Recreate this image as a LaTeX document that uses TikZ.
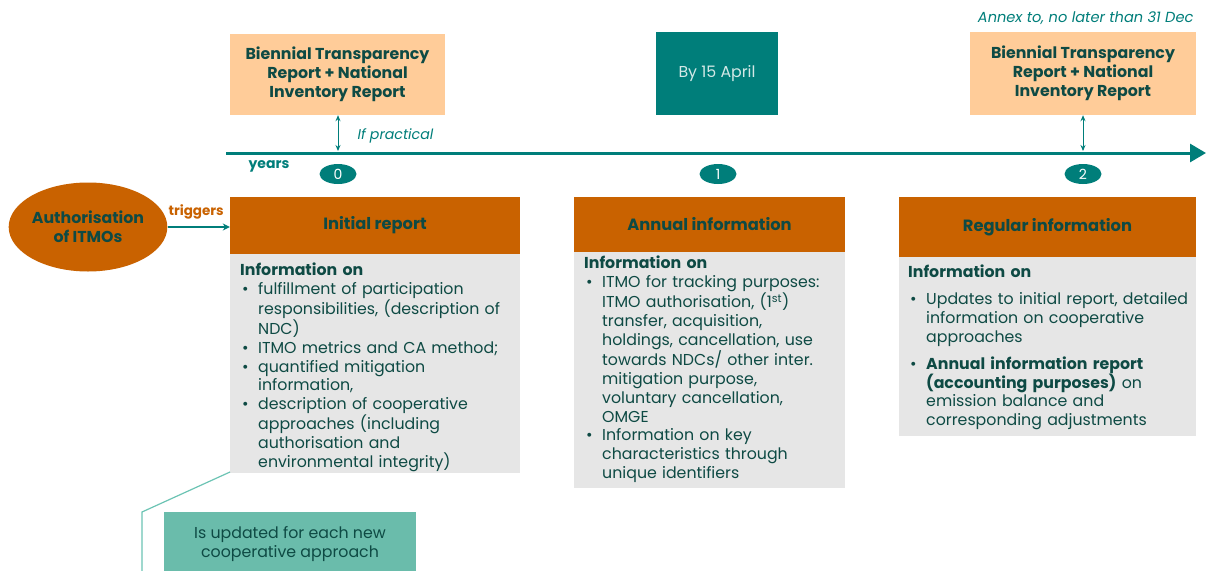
\documentclass[tikz,border=0pt]{standalone}
\usepackage{fontspec}
\setmainfont{Poppins}
\usetikzlibrary{arrows.meta,shapes.geometric}
\definecolor{orng}{HTML}{C96200}
\definecolor{peach}{HTML}{FFCC99}
\definecolor{teal}{HTML}{007E7A}
\definecolor{greybox}{HTML}{E6E6E6}
\definecolor{darktxt}{HTML}{0E4A44}
\definecolor{lightteal}{HTML}{6ABCAB}
\definecolor{linet}{HTML}{6CC4B4}
\definecolor{paletxt}{HTML}{D3E8E6}
\hyphenpenalty=10000
\exhyphenpenalty=10000
\lineskiplimit=-100pt
\newcommand{\bitem}[1]{\par\hangindent=18pt\hangafter=1\noindent\makebox[18pt][l]{\hspace*{2pt}•}#1\par}
\tikzset{
  hdr/.style={fill=orng, draw=none, font=\fontsize{16.3}{18}\selectfont\bfseries, text=darktxt, align=center},
  body/.style={anchor=north west, font=\fontsize{15.8}{18.85}\selectfont, text=darktxt, align=left, inner sep=0pt},
  btr/.style={fill=peach, draw=none, font=\fontsize{15.8}{19}\selectfont\bfseries, text=darktxt, align=center},
  yr/.style={ellipse, fill=teal, text=white, minimum width=37pt, minimum height=20pt, inner sep=0pt, font=\fontsize{14}{14}\selectfont},
  dbl/.style={teal, line width=0.9pt, {Stealth[length=6pt,width=5pt]}-{Stealth[length=6pt,width=5pt]}},
}
\begin{document}
\begin{tikzpicture}[x=1pt,y=-1pt]
\useasboundingbox (0,0) rectangle (1206,570);
\fill[white] (0,0) rectangle (1206,570);

% timeline
\coordinate (tl0) at (226,153);
\coordinate (tl1) at (1206,153);
\draw[teal, line width=3pt, -{Triangle[length=16pt,width=18pt]}] (tl0) -- (tl1);
\node[text=teal, font=\fontsize{14}{14}\selectfont\bfseries, anchor=west] (years) at (245,166) {years};
\node[yr] (y0) at (338,174) {0};
\node[yr] (y1) at (718,174) {1};
\node[yr] (y2) at (1083,174) {2};

% top boxes
\node[btr, minimum width=215pt, minimum height=81pt] (btr1) at (337.5,74.5) {Biennial Transparency\\Report + National\\Inventory Report};
\node[fill=teal, minimum width=122pt, minimum height=83pt, text=paletxt, font=\fontsize{15.8}{18}\selectfont] (apr) at (717,73.5) {By 15 April};
\node[btr, minimum width=226pt, minimum height=83pt] (btr2) at (1083,73.5) {Biennial Transparency\\Report + National\\Inventory Report};
\node[text=teal, font=\fontsize{14.6}{14}\selectfont\itshape, anchor=east] (annex) at (1197,18) {Annex to, no later than 31 Dec};

\coordinate (a0) at (338,151);
\coordinate (a2) at (1083,151);
\draw[dbl] (btr1.south -| a0) -- (a0);
\draw[dbl] (btr2.south -| a2) -- (a2);
\node[text=teal, font=\fontsize{14.2}{14}\selectfont\itshape, anchor=west] (ifp) at (354,136) {If practical};

% authorisation
\node[ellipse, fill=orng, minimum width=157pt, minimum height=89pt, inner sep=0pt, text=darktxt, font=\fontsize{15.8}{19}\selectfont\bfseries, align=center] (auth) at (88,227) {Authorisation\\of ITMOs};

% Initial report
\node[hdr, minimum width=290pt, minimum height=57pt] (init) at (375,225.5) {Initial report};
\fill[greybox] (230,254) rectangle (520,473);
\coordinate (initbl) at (230,472);
\node[body, text width=278pt] (initb) at (240,263) {{\bfseries Information on}\par
\bitem{fulfillment of participation\newline responsibilities, (description of\newline NDC)}
\bitem{ITMO metrics and CA method;}
\bitem{quantified mitigation\newline information,}
\bitem{description of cooperative\newline approaches (including\newline authorisation and\newline environmental integrity)}};

\draw[teal, line width=2pt, -{Stealth[length=7pt,width=7pt]}] (auth.east) -- (auth.east -| init.west);
\node[text=orng, font=\fontsize{13.5}{14}\selectfont\bfseries, anchor=west] (trig) at (165,212) {triggers};

% Annual information
\node[hdr, minimum width=271pt, minimum height=55pt] (ann) at (709.5,224.5) {Annual information};
\fill[greybox] (574,252) rectangle (845,488);
\node[body, text width=262pt] (annb) at (584,256) {{\bfseries Information on}\par
\bitem{ITMO for tracking purposes:\newline ITMO authorisation, (1\textsuperscript{st})\newline transfer, acquisition,\newline holdings, cancellation, use\newline towards NDCs/ other inter.\newline mitigation purpose,\newline voluntary cancellation,\newline OMGE}
\bitem{Information on key\newline characteristics through\newline unique identifiers}};

% Regular information
\node[hdr, minimum width=297pt, minimum height=60pt] (reg) at (1047.5,227) {Regular information};
\fill[greybox] (899,257) rectangle (1196,436);
\node[body, text width=292pt] (regb) at (908,265) {{\bfseries Information on}\par\vspace{8pt}
\bitem{Updates to initial report, detailed\newline information on cooperative\newline approaches}\vspace{8pt}
\bitem{{\bfseries Annual information report\newline (accounting purposes)} on\newline emission balance and\newline corresponding adjustments}};

% updated box
\fill[lightteal] (164,512) rectangle (416,575);
\node[text=darktxt, font=\fontsize{15.8}{18.5}\selectfont, align=center] (upd) at (290,544) {Is updated for each new\\cooperative approach};
\coordinate (bend) at (142,512);
\coordinate (lend) at (142,575);
\draw[linet, line width=1.2pt] (initbl) -- (bend) -- (lend);
\end{tikzpicture}
\end{document}
